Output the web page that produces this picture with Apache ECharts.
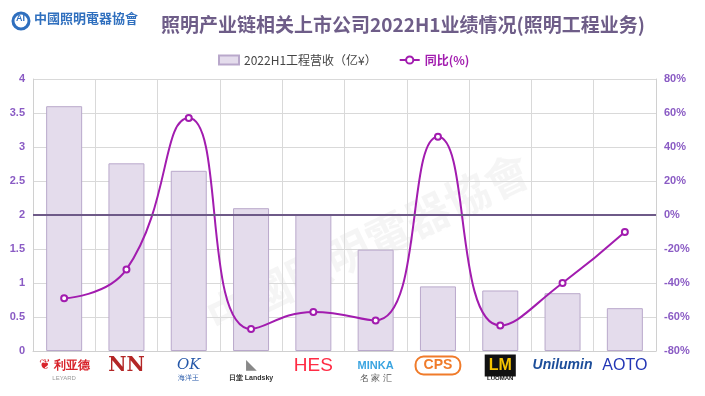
<!DOCTYPE html>
<html><head><meta charset="utf-8">
<script src="https://cdn.jsdelivr.net/npm/echarts@6/dist/echarts.min.js"></script>
<style>html,body{margin:0;padding:0;background:#fff}#c{width:705px;height:396px}</style>
</head><body><div id="c"></div>
<script>
const categories = ['利亚德', 'NN', '海洋王', 'Landsky', 'HES', '名家汇', 'CPS', 'LUOMAN', 'Unilumin', 'AOTO'];
const revenue = [3.6, 2.76, 2.65, 2.1, 2.0, 1.49, 0.95, 0.89, 0.85, 0.63];
const yoy = [-49, -32, 57, -67, -57, -62, 46, -65, -40, -10];
const leftTicks = { min: 0, max: 4, interval: 0.5 };
const rightTicks = { min: -80, max: 80, interval: 20 };
const titleText = '照明产业链相关上市公司2022H1业绩情况(照明工程业务)';
const barName = '2022H1工程营收（亿¥）';
const lineName = '同比(%)';

const labelMap = {
  '利亚德': '{lyi|❦}{ly|利亚德}\n{lys|LEYARD}',
  'NN': '{nn|NN}',
  '海洋王': '{ok|OK}\n{oks|海洋王}',
  'Landsky': '{ldi|◣}\n{ld|日堂 Landsky}',
  'HES': '{hes|HES}',
  '名家汇': '{mk|MINKA}\n{mks|名 家 汇}',
  'CPS': '{cps|CPS}',
  'LUOMAN': '{lm|LM}\n{lms|LUOMAN}',
  'Unilumin': '{un|Unilumin}',
  'AOTO': '{ao|AOTO}'
};

const chart = echarts.init(document.getElementById('c'));
const purpleLbl = '#8a5bc4';
chart.setOption({
  animation: false,
  backgroundColor: '#fff',
  title: {
    text: titleText, left: 398, top: 10, textAlign: 'center',
    textStyle: { fontSize: 19, fontWeight: 'bold', color: '#6e5d88', fontFamily: 'Noto Sans CJK SC' }
  },
  graphic: [
    { type: 'circle', shape: { cx: 21, cy: 21, r: 8 }, style: { fill: 'none', stroke: '#2f6fbe', lineWidth: 3 } },
    { type: 'text', left: 16, top: 14, style: { text: 'AI', fill: '#2f6fbe', font: 'bold 9px sans-serif' } },
    { type: 'text', left: 34, top: 12, style: { text: '中國照明電器協會', fill: '#2f6fbe', font: 'bold 13px "Noto Sans CJK TC"' } },
    { type: 'text', x: 200, y: 300, rotation: 0.45, z: -1, style: { text: '中國照明電器協會', fill: 'rgba(120,120,120,0.07)', font: 'bold 44px "Noto Sans CJK TC"' } }
  ],
  legend: {
    top: 49, left: 213, itemGap: 22, itemWidth: 20, itemHeight: 9,
    textStyle: { fontSize: 12, color: '#444', fontFamily: 'Noto Sans CJK SC' },
    data: [
      { name: barName, icon: 'rect' },
      { name: lineName, textStyle: { color: '#a21caf', fontWeight: 'bold' } }
    ]
  },
  grid: { left: 33, right: 49, top: 79, bottom: 45 },
  xAxis: {
    type: 'category', data: categories,
    axisLine: { lineStyle: { color: '#d0d0d0' } },
    axisTick: { show: false },
    splitLine: { show: true, lineStyle: { color: '#d9d9d9' } },
    axisLabel: {
      interval: 0, margin: 8, lineHeight: 13,
      formatter: v => labelMap[v] || v,
      rich: {
        lyi: { color: '#d8242b', fontSize: 14, padding: [0, 3, 0, 0] },
        ly: { color: '#d8242b', fontSize: 12, fontWeight: 'bold' },
        lys: { color: '#999', fontSize: 6 },
        nn: { color: '#b32626', fontSize: 20, fontFamily: 'DejaVu Serif', fontWeight: 'bold' },
        ok: { color: '#2457a8', fontSize: 15, fontStyle: 'italic', fontFamily: 'DejaVu Serif' },
        oks: { color: '#2457a8', fontSize: 7 },
        ldi: { color: '#888', fontSize: 14 },
        ld: { color: '#333', fontSize: 7, fontWeight: 'bold' },
        hes: { color: '#ff2b44', fontSize: 19, fontFamily: 'Liberation Sans', letterSpacing: 1 },
        mk: { color: '#3aa4e0', fontSize: 11, fontWeight: 'bold' },
        mks: { color: '#555', fontSize: 9 },
        cps: { color: '#f07b2a', fontSize: 14, fontWeight: 'bold', borderColor: '#f07b2a', borderWidth: 2, borderRadius: 8, padding: [2, 8] },
        lm: { color: '#f5c400', backgroundColor: '#111', fontSize: 16, fontWeight: 'bold', padding: [3, 4] },
        lms: { color: '#111', fontSize: 6, fontWeight: 'bold' },
        un: { color: '#1d4e9a', fontSize: 14, fontWeight: 'bold', fontStyle: 'italic' },
        ao: { color: '#2336b5', fontSize: 16 }
      }
    }
  },
  yAxis: [
    {
      type: 'value', min: leftTicks.min, max: leftTicks.max, interval: leftTicks.interval,
      axisLine: { show: true, lineStyle: { color: '#d0d0d0' } },
      axisTick: { show: false },
      splitLine: { lineStyle: { color: '#d9d9d9' } },
      axisLabel: { color: purpleLbl, fontSize: 11, fontWeight: 'bold', margin: 8 }
    },
    {
      type: 'value', min: rightTicks.min, max: rightTicks.max, interval: rightTicks.interval,
      axisLine: { show: true, lineStyle: { color: '#d0d0d0' } },
      axisTick: { show: false },
      splitLine: { show: false },
      axisLabel: { color: purpleLbl, fontSize: 11, fontWeight: 'bold', margin: 8, formatter: '{value}%' }
    }
  ],
  series: [
    {
      name: barName, type: 'bar', data: revenue, barWidth: 36, yAxisIndex: 0,
      itemStyle: { color: '#e4dcec', borderColor: '#b9a8cb', borderWidth: 1 }
    },
    {
      name: lineName, type: 'line', data: yoy, yAxisIndex: 1, smooth: 0.5,
      symbol: 'emptyCircle', symbolSize: 6,
      lineStyle: { color: '#a21caf', width: 2 },
      itemStyle: { color: '#a21caf', borderWidth: 1.5 },
      markLine: {
        silent: true, symbol: 'none', label: { show: false },
        lineStyle: { color: '#6e5a88', width: 2, type: 'solid' },
        data: [{ yAxis: 0 }]
      }
    }
  ]
});
</script></body></html>
